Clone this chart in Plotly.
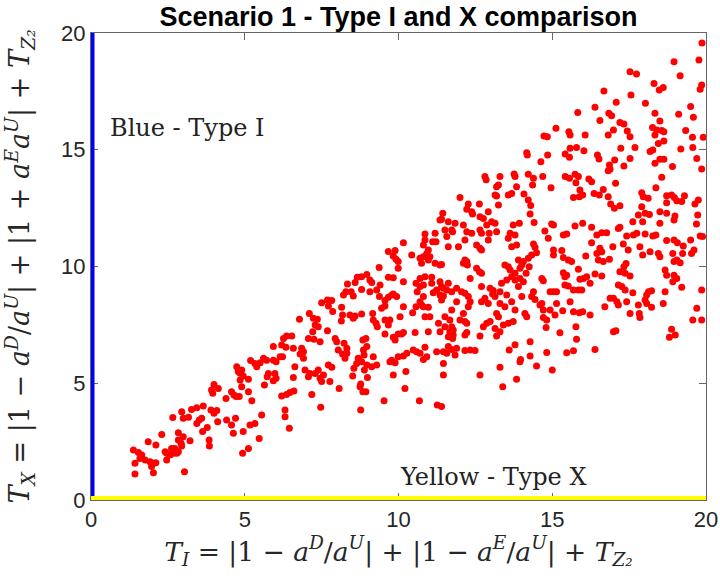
import plotly.graph_objects as go

# ---- data (T_I, T_X) ----
pts_low_left = [
    (4.74,5.71),(4.79,5.50),(4.85,5.43),(4.85,5.14),(4.00,4.95),(3.92,4.71),(4.14,4.78),(3.96,4.57),
    (4.39,4.35),(4.57,4.64),(4.65,4.50),(4.72,4.43),(4.82,4.43),(3.65,4.03),(3.44,3.95),(3.27,3.88),
    (2.95,3.78),(3.00,3.50),(3.17,3.54),(2.66,3.53),(3.60,3.50),(3.52,3.43),(3.44,3.28),(3.90,3.85),
    (4.09,3.83),(4.00,3.71),(4.12,3.35),(3.78,3.11),(3.63,2.93),(4.41,3.43),(4.70,3.50),(4.57,3.21),
    (4.63,2.86),(4.95,2.93),(5.47,2.63),(5.12,2.21),(4.93,2.00),(2.84,2.88),(3.00,2.71),(3.22,2.54),
    (2.84,2.57),(2.93,2.43),(2.95,2.31),(2.73,2.21),(2.62,2.21),(2.41,2.07),(2.46,2.00),(2.57,1.93),
    (2.68,2.00),(2.79,2.00),(2.84,2.07),(2.46,1.71),(2.30,2.81),(2.11,2.36),(1.86,2.50),(1.38,2.14),
    (1.54,2.03),(1.65,1.93),(1.59,1.78),(1.76,1.71),(1.92,1.64),(2.03,1.57),(1.43,1.57),(2.11,1.60),
    (1.97,1.43),(2.03,1.17),(1.43,1.11),(3.04,1.21),(3.84,2.57),(3.85,2.31),
]

pts_mid_left = [
    (9.37,9.96),(8.97,9.66),(8.80,9.56),(8.66,9.54),(9.07,9.42),(9.13,9.31),(8.59,9.31),(8.34,9.25),
    (8.29,8.92),(8.21,8.78),(8.46,8.92),(8.53,8.74),(8.80,9.02),(9.07,8.92),(9.29,8.99),(9.38,8.71),
    (7.50,8.45),(7.69,8.56),(7.83,8.54),(7.72,8.31),(7.86,8.07),(8.15,8.25),(8.18,7.92),(8.14,7.67),
    (8.42,7.92),(8.53,7.78),(8.59,7.88),(8.80,7.97),(9.16,7.99),(9.18,7.71),(9.31,7.42),(9.27,7.57),
    (7.10,7.99),(6.78,7.74),(7.23,7.78),(7.36,7.74),(7.29,7.49),(7.39,7.42),(7.21,7.21),(7.07,6.92),
    (7.25,6.88),(7.45,6.78),(7.69,7.25),(7.94,6.92),(7.99,6.78),(8.23,6.71),(8.32,6.50),(8.18,6.25),
    (8.26,6.07),(8.04,6.42),(8.32,6.28),(8.94,6.92),(8.84,6.85),(8.97,6.57),(8.86,6.42),(8.88,6.21),
    (8.69,6.07),(8.80,5.92),(8.64,5.85),(8.97,5.78),(9.13,5.71),(9.29,5.78),(9.18,6.14),(8.99,5.25),
    (8.89,5.57),(8.55,5.64),(8.51,5.31),(8.77,4.97),(8.84,4.64),(8.94,4.64),(8.75,4.85),(6.26,6.92),
    (6.36,7.02),(6.53,7.02),(6.20,6.64),(5.93,6.57),(6.34,6.54),(6.58,6.50),(6.85,6.50),(6.91,6.35),
    (6.80,6.25),(6.91,6.07),(6.96,5.57),(7.07,5.28),(7.12,5.42),(7.29,5.42),(7.39,5.57),(7.56,5.35),
    (7.45,5.21),(7.50,5.07),(7.72,5.78),(7.83,5.68),(7.77,5.07),(8.07,4.78),(6.63,5.71),(6.58,5.25),
    (6.15,6.14),(6.23,6.14),(6.02,5.92),(5.93,5.99),(5.71,5.99),(5.61,6.07),(5.50,5.88),(5.33,5.85),
    (5.39,5.71),(5.19,5.97),(5.77,5.42),(5.73,5.28),(5.98,5.42),(6.02,5.21),(5.93,5.11),(5.64,4.93),
    (4.90,5.57),(4.95,5.31),(5.12,5.17),(4.90,4.85),(5.12,4.64),(5.23,4.25),(6.20,4.45),(6.36,4.52),
    (6.47,4.60),(6.60,4.67),(7.18,4.52),(7.47,3.97),(6.31,3.85),(6.31,3.57),(5.55,3.64),(5.33,3.28),
    (5.17,3.21),(6.45,3.07),(8.77,3.85),
]

pts_center_top = [
    (12.81,13.85),(12.85,13.71),(13.30,13.85),(13.25,13.49),(13.19,13.42),(13.76,13.96),(13.79,13.85),
    (13.57,13.06),(13.68,13.13),(13.84,13.42),(13.14,13.06),(13.19,13.02),(13.25,12.63),(12.00,12.96),
    (12.27,12.68),(12.22,12.45),(12.63,12.68),(12.38,12.35),(12.41,12.25),(12.65,12.13),(12.76,12.06),
    (12.92,12.35),(12.87,11.78),(13.03,11.92),(13.14,11.85),(13.19,11.49),(12.95,11.42),(12.92,11.13),
    (12.65,11.56),(12.70,11.42),(11.44,12.28),(11.40,12.02),(11.35,11.99),(11.62,11.92),(11.84,11.85),
    (11.51,11.56),(11.73,11.56),(11.76,11.49),(12.11,11.78),(12.22,11.49),(12.16,11.13),(12.38,11.42),
    (12.54,10.92),(12.65,10.78),(12.70,10.71),(11.95,10.85),(11.62,10.85),(11.57,11.28),(11.19,11.42),
    (10.86,11.39),(10.86,11.13),(11.11,11.06),(11.22,11.06),(10.81,10.92),(10.97,10.71),(10.92,10.56),
    (10.81,10.42),(10.70,10.35),(10.75,10.14),(10.97,10.28),(11.02,10.42),(11.19,10.14),(11.40,10.09),
    (11.35,10.06),(10.16,11.02),(9.67,10.64),(9.89,10.68),(9.83,10.45),(9.92,10.31),(9.99,10.21),
    (9.99,9.92),(10.43,10.49),(10.70,9.49),(10.86,9.56),(11.08,9.54),(11.08,9.28),(11.35,9.35),
    (11.40,9.14),(11.46,9.07),(11.24,8.99),(11.13,8.88),(11.35,8.78),(11.46,8.74),(11.40,8.56),
    (10.81,9.21),(10.70,9.14),(10.57,9.28),(10.61,8.92),(10.81,8.71),(10.70,8.49),(10.75,8.35),
    (10.81,8.28),(10.86,7.85),(11.02,7.85),(10.97,8.25),(10.57,8.28),(10.46,8.02),(10.05,7.85),
    (10.16,8.28),(9.94,8.71),(9.83,8.82),(9.67,8.68),(9.78,8.78),(9.56,8.54),(9.56,8.31),(9.45,8.21),
    (9.83,9.52),(9.67,9.54),(10.16,9.35),(12.16,10.28),(12.22,10.21),(12.24,10.06),(12.11,10.14),
    (12.33,9.49),(12.54,9.92),(12.63,9.78),(12.70,9.71),(11.89,9.07),(11.62,9.28),(11.57,8.99),
    (11.73,8.92),(12.05,8.92),(12.16,8.85),(12.27,8.71),(12.33,8.49),(12.27,8.28),(11.89,8.49),
    (11.73,8.14),(11.67,7.71),(11.51,7.85),(11.30,7.57),(11.51,7.42),(11.73,7.42),(11.78,7.28),
    (12.00,7.71),(12.16,7.64),(12.22,7.57),(12.11,7.99),(12.70,9.14),(12.98,9.07),(13.08,8.97),
    (13.06,8.82),(12.81,8.64),(12.70,8.49),(12.92,8.42),(13.14,8.71),(13.30,8.92),(13.35,9.28),
    (13.52,9.42),(13.68,9.56),(13.79,9.42),(13.90,9.14),(13.63,9.85),(13.79,9.71),(13.57,9.99),
    (13.46,10.06),(13.52,8.78),(13.68,8.49),(13.79,8.14),(13.46,8.28),(13.30,8.42),(13.19,7.99),
    (13.25,7.85),(12.98,7.64),(12.87,7.57),(12.76,7.42),(13.14,7.35),(13.41,7.49),(13.57,7.57),
    (13.73,7.64),(13.79,11.35),(13.93,11.85),(13.73,11.78),(13.63,11.42),(13.57,11.21),(13.68,10.85),
    (13.84,10.92),(13.90,10.28),(9.40,9.21),(9.72,7.71),(9.67,7.49),(9.56,7.71),
]

pts_center_low = [
    (9.56,7.11),(9.83,6.97),(9.89,6.85),(9.99,7.11),(10.10,7.11),(10.16,7.17),(10.54,7.17),(10.97,7.21),
    (11.35,7.21),(11.67,7.21),(11.62,6.99),(11.78,7.07),(11.76,6.92),(12.16,7.07),(12.22,7.17),
    (12.65,7.02),(13.19,7.02),(13.30,7.21),(9.78,5.99),(9.72,5.92),(9.89,5.88),(9.99,6.14),(10.16,6.17),
    (10.27,6.28),(10.48,6.42),(10.59,6.35),(10.70,6.28),(10.81,6.02),(10.92,6.14),(10.86,6.54),
    (11.24,6.35),(11.46,6.35),(11.57,6.28),(11.62,6.57),(11.73,6.45),(11.89,6.50),(11.84,6.21),
    (12.16,6.40),(12.33,6.42),(12.49,6.40),(11.46,5.85),(11.46,5.35),(12.65,5.35),(9.83,5.35),
    (10.24,5.50),(10.21,4.78),(9.53,4.25),(10.68,4.25),(11.26,4.07),(11.40,4.00),(13.30,5.68),
    (13.39,4.85),(13.60,6.42),(13.79,6.65),(13.84,5.17),(13.95,5.92),(13.97,6.02),
]

pts_right_top = [
    (19.87,19.57),(18.96,18.77),(19.77,18.84),(17.53,18.34),(17.74,18.24),(19.16,18.17),(18.31,17.84),
    (18.48,17.56),(18.61,17.67),(19.86,17.77),(19.81,17.59),(17.56,17.35),(16.68,17.52),(17.08,17.03),
    (18.03,16.99),(15.83,16.60),(16.39,16.82),(16.84,16.56),(16.93,16.46),(16.55,16.25),(17.20,16.17),
    (17.33,16.10),(18.34,16.56),(18.50,16.23),(19.11,16.52),(19.50,16.85),(19.59,16.39),(18.26,15.95),
    (18.40,15.85),(18.56,15.82),(18.63,15.77),(18.34,15.63),(18.45,15.27),(18.63,15.37),(19.34,15.82),
    (19.56,15.53),(19.91,15.53),(19.57,15.10),(19.18,15.03),(15.12,15.92),(14.73,15.59),(14.84,15.56),
    (15.54,15.77),(15.58,15.63),(16.07,15.63),(16.82,15.63),(16.99,15.85),(17.44,15.80),(17.53,15.56),
    (17.69,15.10),(17.23,15.06),(17.53,14.63),(17.33,14.30),(18.18,14.92),(18.27,14.99),(18.34,14.42),
    (18.50,14.59),(18.63,14.59),(18.91,14.28),(19.70,14.63),(19.86,14.18),(14.17,14.87),(14.19,14.77),
    (14.63,14.49),(14.85,14.77),(15.42,14.82),(15.58,15.06),(15.56,14.68),(15.79,15.10),(16.03,14.96),
    (16.47,14.77),(16.52,14.60),(17.03,14.56),(16.86,14.35),(16.88,14.16),(16.82,14.10),(18.56,13.82),
    (18.37,13.37),(17.06,13.56),(14.22,13.95),(14.39,13.78),(14.36,13.49),(14.69,13.85),(14.96,13.37),
    (15.42,13.85),(15.56,13.78),(15.74,13.95),(15.85,13.85),(15.77,13.59),(15.90,13.28),(15.69,12.96),
    (15.88,12.99),(15.99,13.06),(16.19,13.75),(16.28,13.63),(16.36,13.13),(16.53,13.06),(16.66,13.30),
    (16.82,12.99),(16.90,12.68),(17.02,12.49),(17.20,12.60),(14.08,13.11),(14.22,12.85),(14.30,12.61),
    (14.28,12.25),(17.91,13.16),(17.96,12.99),(18.12,12.92),(17.91,12.56),(18.02,12.28),(17.80,12.21),
    (18.16,12.23),(18.72,13.03),(18.88,13.06),(18.97,12.96),(19.05,12.82),(19.21,12.78),(19.30,13.03),
    (18.72,12.73),(18.50,12.35),(18.72,12.28),(18.99,12.16),(19.75,12.85),(19.64,12.68),(19.73,12.21),
]

pts_right_low = [
    (14.41,11.88),(14.98,11.82),(15.04,11.78),(15.74,11.73),(15.99,11.85),(16.28,11.68),(14.76,11.52),
    (14.87,11.21),(15.36,11.35),(15.47,11.39),(16.45,11.35),(16.61,11.45),(16.77,11.45),(16.28,11.02),
    (17.20,11.68),(17.15,11.63),(17.62,11.92),(17.94,11.92),(18.50,11.85),(18.96,11.99),(19.69,11.82),
    (19.81,11.31),(19.89,11.28),(17.42,11.31),(17.64,11.35),(17.75,11.42),(18.02,11.39),(18.27,11.31),
    (18.37,11.35),(18.72,11.11),(18.96,11.13),(19.07,11.02),(19.26,10.88),(19.24,10.56),(19.50,11.13),
    (19.53,10.56),(19.61,10.71),(16.97,10.85),(17.31,10.96),(17.47,10.71),(17.85,10.85),(17.94,10.49),
    (18.18,10.63),(18.45,10.56),(18.50,10.42),(18.92,10.56),(18.96,10.21),(19.05,10.28),(19.16,10.16),
    (14.39,10.96),(14.44,10.82),(14.49,10.59),(14.33,10.49),(14.22,10.35),(14.06,10.21),(14.01,10.06),
    (13.95,9.92),(14.25,9.99),(15.04,10.71),(15.04,10.49),(15.31,10.68),(15.36,10.39),(15.52,10.28),
    (15.63,10.21),(15.85,9.88),(16.09,10.45),(16.45,10.56),(16.55,10.78),(16.61,10.63),(16.50,10.28),
    (16.66,10.21),(16.86,10.31),(15.36,9.73),(15.47,9.63),(15.41,9.56),(15.90,9.45),(16.01,9.49),
    (16.12,9.56),(16.23,9.28),(16.39,9.68),(16.61,9.59),(14.15,9.71),(14.06,9.35),(13.95,9.49),
    (14.66,9.49),(14.71,9.39),(15.41,9.21),(15.52,9.16),(15.69,8.99),(15.85,8.99),(15.96,8.99),
    (17.20,9.78),(17.37,9.71),(17.33,9.99),(17.40,10.13),(17.53,9.59),(17.15,9.21),(17.26,9.14),
    (17.37,8.99),(17.62,8.88),(18.13,8.92),(18.23,8.96),(18.07,8.78),(18.67,8.92),(18.72,9.63),
    (18.67,9.85),(18.96,9.63),(19.05,9.49),(18.92,9.35),(19.21,9.11),(19.86,8.99),(14.39,8.92),
    (14.44,8.59),(14.33,8.71),(14.01,8.71),(14.66,8.42),(14.71,8.14),(14.60,8.35),(14.93,8.92),
    (15.04,8.92),(15.14,8.92),(15.14,8.42),(14.93,8.14),(15.09,7.92),(15.34,8.11),(15.58,8.49),
    (15.69,8.06),(15.88,8.02),(15.99,8.06),(16.23,7.92),(16.71,8.28),(16.88,8.64),(16.99,8.64),
    (17.10,8.49),(17.15,8.35),(17.42,8.49),(17.53,7.99),(17.80,8.35),(17.83,7.99),(17.85,7.82),
    (18.02,8.57),(18.07,8.42),(18.23,8.25),(18.61,8.42),(14.11,7.99),(14.17,7.85),(14.71,7.82),
    (14.82,7.71),(14.80,7.39),(15.77,7.42),(15.25,7.16),(15.79,6.88),(15.69,6.39),(15.47,6.31),
    (16.99,7.21),(17.07,7.25),(14.28,6.78),(14.82,6.32),(14.28,6.17),(14.49,5.74),(15.00,5.57),
    (16.39,6.45),(18.88,7.31),(18.81,6.97),(19.00,7.07),(19.70,8.21),(19.57,7.71),(19.86,7.71),
]

all_pts = pts_low_left + pts_mid_left + pts_center_top + pts_center_low + pts_right_top + pts_right_low
T_I = [p[0] for p in all_pts]
T_X = [p[1] for p in all_pts]

blue_x = [0, 0]
blue_y = [0, 20]
yellow_x = [0, 20]
yellow_y = [0, 0]

tick_vals = [0, 5, 10, 15, 20]
tick_text = ["0", "5", "10", "15", "20"]

title_text = "Scenario 1 - Type I and X comparison"
label_blue = "Blue - Type I"
label_yellow = "Yellow - Type X"

x_title = ("<i>T<sub>I</sub></i> = |1 − <i>a<sup>D</sup></i>/<i>a<sup>U</sup></i>| + "
           "|1 − <i>a<sup>E</sup></i>/<i>a<sup>U</sup></i>| + <i>T<sub>Z₂</sub></i>")
y_title = ("<i>T<sub>X</sub></i> = |1 − <i>a<sup>D</sup></i>/<i>a<sup>U</sup></i>| + "
           "|1 + <i>a<sup>E</sup>a<sup>U</sup></i>| + <i>T<sub>Z₂</sub></i>")

serif = "DejaVu Serif, Liberation Serif, serif"
sans = "Liberation Sans, Arial, sans-serif"

fig = go.Figure()
fig.add_trace(go.Scatter(x=T_I, y=T_X, mode="markers",
                         marker=dict(color="#ff0000", size=7, line=dict(width=0)),
                         showlegend=False, hoverinfo="x+y"))
fig.add_trace(go.Scatter(x=blue_x, y=blue_y, mode="lines",
                         line=dict(color="#0000ff", width=7), showlegend=False))
fig.add_trace(go.Scatter(x=yellow_x, y=yellow_y, mode="lines",
                         line=dict(color="#ffff00", width=8), showlegend=False))

fig.add_annotation(x=0.55, y=15.93, xref="x", yref="y", text=label_blue, showarrow=False,
                   xanchor="left", yanchor="middle", font=dict(family=serif, size=24, color="#222"))
fig.add_annotation(x=9.98, y=0.98, xref="x", yref="y", text=label_yellow, showarrow=False,
                   xanchor="left", yanchor="middle", font=dict(family=serif, size=24, color="#222"))

axis_common = dict(range=[0, 20], tickvals=tick_vals, ticktext=tick_text, ticks="inside",
                   ticklen=7, tickcolor="#666", showline=True, linecolor="#666", linewidth=1,
                   mirror="ticks", showgrid=False, zeroline=False, layer="below traces",
                   automargin=False,
                   tickfont=dict(family=sans, size=22, color="#262626"))

fig.update_layout(
    width=720, height=586,
    margin=dict(l=91, r=14, t=33, b=86),
    paper_bgcolor="white", plot_bgcolor="white",
    title=dict(text="<b>" + title_text + "</b>", x=0.5, xref="paper", y=1 - 17 / 586,
               yref="container", xanchor="center", yanchor="middle",
               font=dict(family=sans, size=27, color="black")),
    xaxis=dict(**axis_common, title=dict(text=x_title, standoff=4,
                                         font=dict(family=serif, size=26.5, color="#262626"))),
    yaxis=dict(**axis_common, title=dict(text=y_title, standoff=24,
                                         font=dict(family=serif, size=27, color="#262626"))),
)

fig.write_html("out.html", config={"displayModeBar": False},
               post_script="document.body.style.margin='0px';")
